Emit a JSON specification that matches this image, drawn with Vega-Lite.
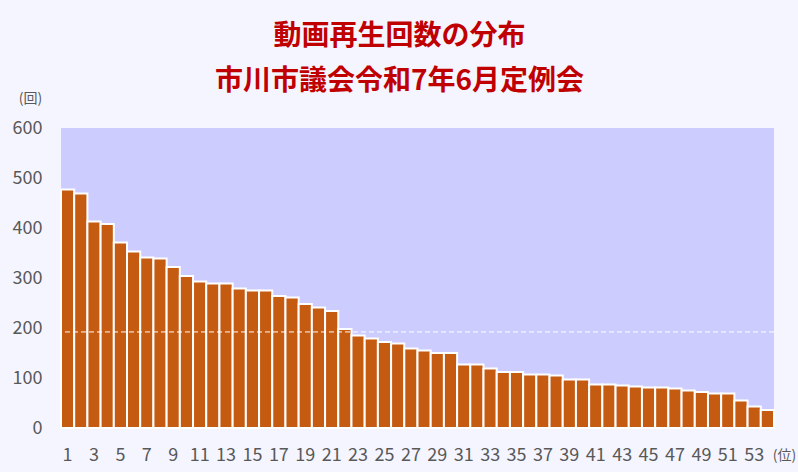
{
  "$schema": "https://vega.github.io/schema/vega-lite/v6.json",
  "width": 713,
  "height": 300,
  "autosize": "none",
  "padding": {"left": 61, "top": 128, "right": 24, "bottom": 44},
  "background": "#F5F5FF",
  "config": {
    "view": {"fill": "#CCCCFF", "stroke": null},
    "font": "Noto Sans CJK JP"
  },
  "title": {
    "text": ["動画再生回数の分布", "市川市議会令和7年6月定例会"],
    "color": "#C00000",
    "fontSize": 28,
    "fontWeight": "bold",
    "font": "Noto Sans CJK JP",
    "lineHeight": 45,
    "anchor": "middle",
    "dx": -18,
    "offset": -5
  },
  "data": {
    "values": [
      {"rank": 1, "views": 477}, {"rank": 2, "views": 469}, {"rank": 3, "views": 413},
      {"rank": 4, "views": 408}, {"rank": 5, "views": 371}, {"rank": 6, "views": 353},
      {"rank": 7, "views": 341}, {"rank": 8, "views": 339}, {"rank": 9, "views": 322},
      {"rank": 10, "views": 304}, {"rank": 11, "views": 293}, {"rank": 12, "views": 289},
      {"rank": 13, "views": 289}, {"rank": 14, "views": 279}, {"rank": 15, "views": 275},
      {"rank": 16, "views": 275}, {"rank": 17, "views": 264}, {"rank": 18, "views": 261},
      {"rank": 19, "views": 248}, {"rank": 20, "views": 241}, {"rank": 21, "views": 234},
      {"rank": 22, "views": 198}, {"rank": 23, "views": 185}, {"rank": 24, "views": 179},
      {"rank": 25, "views": 172}, {"rank": 26, "views": 169}, {"rank": 27, "views": 159},
      {"rank": 28, "views": 155}, {"rank": 29, "views": 150}, {"rank": 30, "views": 150},
      {"rank": 31, "views": 127}, {"rank": 32, "views": 127}, {"rank": 33, "views": 119},
      {"rank": 34, "views": 112}, {"rank": 35, "views": 112}, {"rank": 36, "views": 107},
      {"rank": 37, "views": 107}, {"rank": 38, "views": 105}, {"rank": 39, "views": 97},
      {"rank": 40, "views": 97}, {"rank": 41, "views": 87}, {"rank": 42, "views": 87},
      {"rank": 43, "views": 85}, {"rank": 44, "views": 83}, {"rank": 45, "views": 81},
      {"rank": 46, "views": 81}, {"rank": 47, "views": 79}, {"rank": 48, "views": 75},
      {"rank": 49, "views": 72}, {"rank": 50, "views": 69}, {"rank": 51, "views": 69},
      {"rank": 52, "views": 55}, {"rank": 53, "views": 43}, {"rank": 54, "views": 36}
    ]
  },
  "layer": [
    {
      "mark": {"type": "bar", "fill": "#C55A11", "stroke": "#FFFFFF", "strokeWidth": 2},
      "encoding": {
        "x": {
          "field": "rank",
          "type": "ordinal",
          "scale": {"paddingInner": 0, "paddingOuter": 0},
          "axis": {
            "title": "(位)",
            "titleFontSize": 14,
            "titleFontWeight": "normal",
            "titleColor": "#595959",
            "titleX": 723,
            "titleY": 27,
            "titleAlign": "center",
            "titleBaseline": "middle",
            "labelAngle": 0,
            "labelExpr": "datum.value % 2 == 1 ? datum.label : ''",
            "labelOverlap": false,
            "labelFontSize": 18,
            "labelColor": "#595959",
            "labelPadding": 18,
            "domain": false,
            "ticks": false
          }
        },
        "y": {
          "field": "views",
          "type": "quantitative",
          "scale": {"domain": [0, 600]},
          "axis": {
            "title": "(回)",
            "titleAngle": 0,
            "titleFontSize": 14,
            "titleFontWeight": "normal",
            "titleColor": "#595959",
            "titleX": -31,
            "titleY": -30,
            "titleAlign": "center",
            "titleBaseline": "middle",
            "values": [0, 100, 200, 300, 400, 500, 600],
            "labelFontSize": 18,
            "labelColor": "#595959",
            "labelPadding": 19,
            "domain": false,
            "ticks": false,
            "grid": false
          }
        }
      }
    },
    {
      "mark": {"type": "rule", "stroke": "#FFFFFF", "strokeWidth": 1, "strokeDash": [5, 3]},
      "encoding": {
        "y": {"aggregate": "mean", "field": "views", "type": "quantitative"}
      }
    }
  ]
}
